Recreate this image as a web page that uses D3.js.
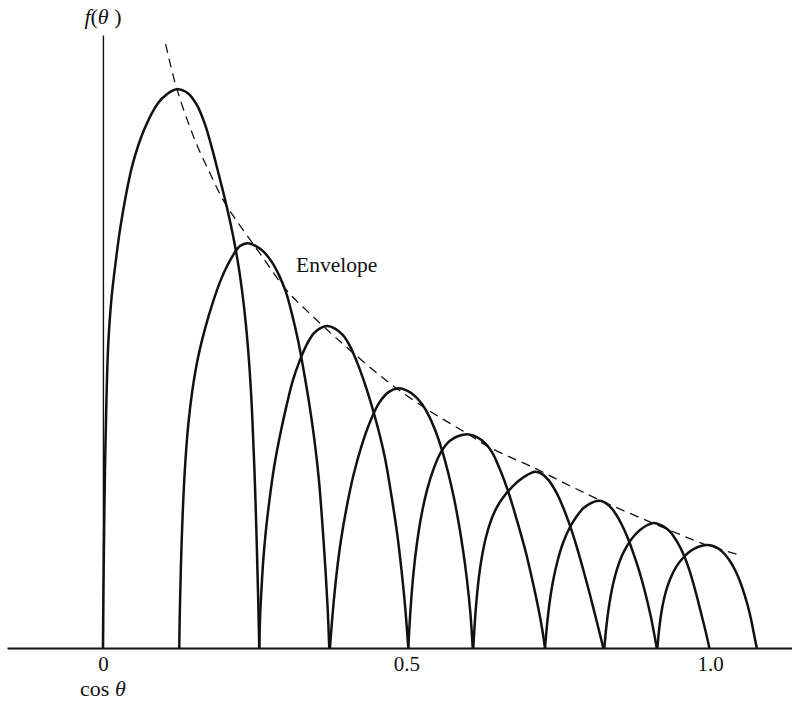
<!DOCTYPE html>
<html>
<head>
<meta charset="utf-8">
<script src="https://cdn.jsdelivr.net/npm/d3@7"></script>
<style>
  html, body { margin: 0; padding: 0; background: #fff; }
  svg { display: block; }
  text { font-family: "Liberation Serif", "Times New Roman", serif; fill: #111; }
</style>
</head>
<body>
<svg id="chart" width="792" height="702"></svg>
<script>
// ---- data (x = cos θ, y = f(θ), peak of first lobe = 1) ----
const tickValues = [0, 0.5, 1.0];
const tickLabels = ["0", "0.5", "1.0"];

const lobe1 = [[0,0],[0.0007,0.0857],[0.0016,0.175],[0.0033,0.3125],[0.0058,0.4429],[0.0087,0.5411],[0.0143,0.6268],[0.0214,0.6929],[0.028,0.7464],[0.0379,0.8089],[0.0494,0.8661],[0.0675,0.925],[0.0906,0.9732],[0.1054,0.9893],[0.1214,0.9982],[0.14,0.9911],[0.1549,0.9696],[0.168,0.9357],[0.1796,0.8929],[0.1911,0.8446],[0.2026,0.7946],[0.2142,0.7375],[0.2249,0.6714],[0.2339,0.5946],[0.2405,0.5143],[0.2455,0.425],[0.2496,0.3179],[0.2532,0.1929],[0.2558,0.0857],[0.2575,0]];
const lobe2 = [[0.1257,0],[0.1267,0.0679],[0.1285,0.1482],[0.1313,0.2375],[0.1351,0.3214],[0.1405,0.3982],[0.1474,0.4607],[0.1565,0.5179],[0.168,0.5696],[0.1812,0.6179],[0.1961,0.6625],[0.2125,0.6982],[0.2257,0.7179],[0.2384,0.7232],[0.2521,0.7179],[0.2653,0.7071],[0.2784,0.6893],[0.29,0.6661],[0.3015,0.6357],[0.3114,0.5964],[0.3213,0.55],[0.3311,0.4929],[0.3402,0.4339],[0.3484,0.3714],[0.3558,0.3],[0.3616,0.2196],[0.3666,0.1393],[0.3703,0.0679],[0.3728,0]];
const lobe3 = [[0.2575,0],[0.259,0.0589],[0.2611,0.1036],[0.2641,0.1571],[0.2685,0.2107],[0.2743,0.2643],[0.2817,0.3214],[0.2908,0.375],[0.3026,0.4339],[0.313,0.4786],[0.3245,0.5143],[0.3361,0.5429],[0.3476,0.5625],[0.3583,0.5714],[0.3695,0.575],[0.3822,0.5705],[0.3954,0.5589],[0.4069,0.5393],[0.4185,0.5107],[0.43,0.4768],[0.4415,0.4375],[0.453,0.3929],[0.4646,0.3393],[0.4753,0.2714],[0.4843,0.2071],[0.4918,0.1393],[0.498,0.0714],[0.503,0]];
const lobe4 = [[0.374,0],[0.3789,0.0679],[0.385,0.1339],[0.3921,0.1929],[0.4015,0.2518],[0.4127,0.3089],[0.4259,0.3607],[0.4399,0.4036],[0.4547,0.4375],[0.4704,0.4571],[0.4865,0.4638],[0.5008,0.4598],[0.514,0.45],[0.5255,0.4357],[0.5371,0.4143],[0.5478,0.3875],[0.5585,0.3536],[0.5684,0.3143],[0.5775,0.2714],[0.5857,0.225],[0.5931,0.175],[0.5997,0.1214],[0.6051,0.0643],[0.6091,0]];
const lobe5 = [[0.503,0],[0.5066,0.0679],[0.5112,0.1304],[0.5173,0.1875],[0.5247,0.2375],[0.5338,0.2821],[0.5445,0.3196],[0.5568,0.35],[0.5708,0.3696],[0.5857,0.3786],[0.6018,0.3816],[0.6161,0.3768],[0.6293,0.3661],[0.6409,0.35],[0.6516,0.325],[0.6615,0.2982],[0.6705,0.2696],[0.6804,0.2339],[0.6898,0.1982],[0.6969,0.1696],[0.7035,0.1393],[0.7109,0.1036],[0.7171,0.0714],[0.7232,0.0357],[0.7282,0]];
const lobe6 = [[0.6101,0],[0.6134,0.0589],[0.6178,0.1125],[0.6236,0.1589],[0.631,0.1982],[0.6401,0.2304],[0.6508,0.2554],[0.6623,0.2732],[0.6738,0.2875],[0.6854,0.2991],[0.6985,0.3089],[0.7117,0.3148],[0.7229,0.3109],[0.7343,0.2995],[0.7455,0.2805],[0.7567,0.2546],[0.768,0.2225],[0.7792,0.1852],[0.7904,0.1429],[0.8017,0.0973],[0.813,0.0491],[0.8242,0]];
const lobe7 = [[0.7282,0],[0.7315,0.0411],[0.7356,0.0804],[0.7414,0.1196],[0.7488,0.1554],[0.7578,0.1875],[0.7685,0.2143],[0.7801,0.2348],[0.7916,0.25],[0.804,0.2589],[0.816,0.263],[0.8255,0.2607],[0.8353,0.2527],[0.8448,0.2393],[0.8545,0.2205],[0.8641,0.1973],[0.8736,0.1696],[0.8834,0.1375],[0.8929,0.1],[0.9026,0.0554],[0.9122,0]];
const lobe8 = [[0.8259,0],[0.8295,0.0411],[0.8341,0.0786],[0.8399,0.1125],[0.8468,0.1411],[0.855,0.1652],[0.8641,0.1839],[0.874,0.1991],[0.8847,0.2107],[0.8954,0.2188],[0.9066,0.2232],[0.916,0.2209],[0.925,0.2161],[0.9341,0.2077],[0.9431,0.1946],[0.9514,0.1786],[0.9588,0.1607],[0.9662,0.1384],[0.9728,0.1143],[0.9794,0.0875],[0.986,0.0589],[0.9926,0.0304],[0.9989,0]];
const lobe9 = [[0.9132,0],[0.9168,0.0393],[0.9214,0.0732],[0.9275,0.1018],[0.935,0.125],[0.944,0.1446],[0.9539,0.1589],[0.9646,0.1705],[0.9753,0.178],[0.9852,0.1821],[0.9945,0.1839],[1.0049,0.1821],[1.0148,0.1768],[1.0247,0.167],[1.0338,0.1536],[1.042,0.1375],[1.0494,0.1188],[1.056,0.0982],[1.0618,0.0768],[1.0671,0.0536],[1.0717,0.0286],[1.077,0]];

const envelopeCos = [0.1033,0.1214,0.1516,0.1763,0.1982,0.2229,0.2586,0.3026,0.352,0.4069,0.4728,0.5359,0.5909,0.6403,0.7117,0.7611,0.8188,0.9066,0.9945,1.0494];
const envelopeF   = [1.0786,1.0,0.907,0.848,0.8,0.759,0.705,0.639,0.586,0.532,0.4727,0.425,0.389,0.3566,0.321,0.294,0.264,0.2227,0.184,0.166];

const lobes = [lobe1, lobe2, lobe3, lobe4, lobe5, lobe6, lobe7, lobe8, lobe9];

// ---- scales ----
const svg = d3.select("#chart");
const x = d3.scaleLinear().domain([-0.158, 1.135]).range([7, 792]);
const y = d3.scaleLinear().domain([0, 1.095]).range([648, 35]);

// ---- axes ----
const xAxis = d3.axisBottom(x)
  .tickValues(tickValues)
  .tickFormat((d, i) => tickLabels[i])
  .tickSize(0)
  .tickSizeOuter(0)
  .tickPadding(8);
const gx = svg.append("g").attr("transform", `translate(0,${y(0)})`).call(xAxis);
gx.select(".domain").attr("stroke", "#111").attr("stroke-width", 2);
gx.selectAll("text").attr("font-size", 21).attr("font-family", '"Liberation Serif", serif').attr("fill", "#111");

const yAxis = d3.axisLeft(y).tickValues([]).tickSizeOuter(0);
const gy = svg.append("g").attr("transform", `translate(${x(0)},0)`).call(yAxis);
gy.select(".domain").attr("stroke", "#111").attr("stroke-width", 1.4);

// ---- lobes ----
const line = d3.line().x(d => x(d[0])).y(d => y(d[1])).curve(d3.curveCatmullRom.alpha(0.5));
svg.append("g").selectAll("path").data(lobes).join("path")
  .attr("d", line)
  .attr("fill", "none")
  .attr("stroke", "#111")
  .attr("stroke-width", 2.5)
  .attr("stroke-linejoin", "round");

// ---- envelope ----
const envData = envelopeCos.map((c, i) => [c, envelopeF[i]]);
svg.append("path").datum(envData)
  .attr("d", line)
  .attr("fill", "none")
  .attr("stroke", "#111")
  .attr("stroke-width", 1.3)
  .attr("stroke-dasharray", "9,6");

// ---- labels ----
const yl = svg.append("text").attr("x", x(0)).attr("y", 24).attr("text-anchor", "middle").attr("font-size", 22);
yl.append("tspan").attr("font-style", "italic").text("f");
yl.append("tspan").text("(");
yl.append("tspan").attr("font-style", "italic").text("θ");
yl.append("tspan").text(" )");

const xl = svg.append("text").attr("x", x(0)).attr("y", 696).attr("text-anchor", "middle").attr("font-size", 22);
xl.append("tspan").text("cos ");
xl.append("tspan").attr("font-style", "italic").text("θ");

svg.append("text").attr("x", 296).attr("y", 272).attr("font-size", 21.5).text("Envelope");
</script>
</body>
</html>
